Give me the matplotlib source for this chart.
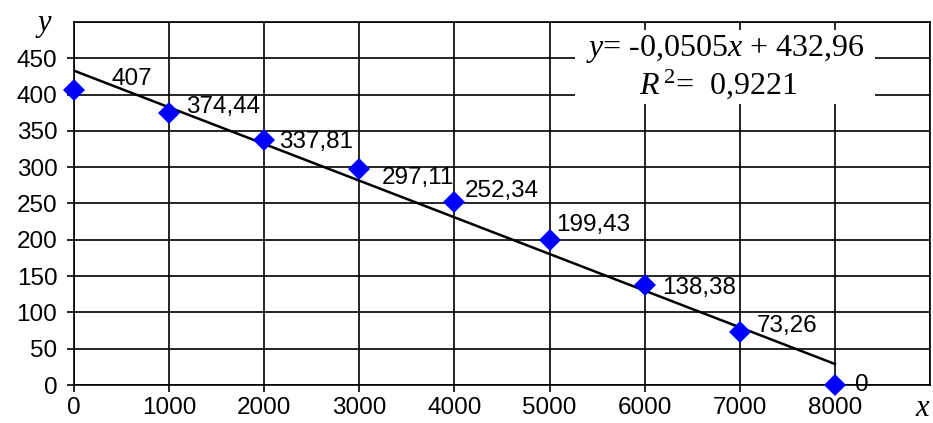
import matplotlib
matplotlib.use("Agg")
import matplotlib.pyplot as plt
import numpy as np
from matplotlib.patches import Rectangle

plt.rcParams["mathtext.fontset"] = "custom"
plt.rcParams["mathtext.it"] = "Liberation Serif:italic"
plt.rcParams["mathtext.rm"] = "Liberation Serif"
plt.rcParams["mathtext.default"] = "regular"

# data
x_vals = [0, 1000, 2000, 3000, 4000, 5000, 6000, 7000, 8000]
y_vals = [407, 374.44, 337.81, 297.11, 252.34, 199.43, 138.38, 73.26, 0]
point_labels = ["407", "374,44", "337,81", "297,11", "252,34", "199,43", "138,38", "73,26", "0"]
x_ticks = [0, 1000, 2000, 3000, 4000, 5000, 6000, 7000, 8000]
y_ticks = [0, 50, 100, 150, 200, 250, 300, 350, 400, 450]
trend_slope = -0.0505
trend_intercept = 432.96
r_squared = "0,9221"

# label offsets in pixels (dx right, dy up)
label_offsets_px = [(38, 11), (17, 6), (15, -2), (22, -9), (10, 11), (7, 15), (17, -3), (17, 6), (20, 0)]

DPI = 100
fig = plt.figure(figsize=(9.33, 4.23), dpi=DPI)
W, H = 933, 423
ax = fig.add_axes([74 / W, (H - 385) / H, (930 - 74) / W, (385 - 22) / H])

ax.set_xlim(0, 9000)
ax.set_ylim(0, 500)
ax.set_xticks(x_ticks)
ax.set_yticks(y_ticks)
ax.set_xticks([9000], minor=True)
ax.set_yticks([500], minor=True)
ax.grid(True, which="both", color="black", linewidth=1.2)
ax.set_axisbelow(True)
for s in ax.spines.values():
    s.set_color("black")
    s.set_linewidth(1.2)
ax.tick_params(axis="both", which="major", direction="out", length=5, width=1.2,
               labelsize=17.5, colors="black")
ax.tick_params(axis="y", which="major", pad=7)
ax.tick_params(axis="x", which="major", pad=3.5)
ax.tick_params(axis="both", which="minor", length=0)
for lab in ax.get_xticklabels() + ax.get_yticklabels():
    lab.set_fontfamily("Liberation Sans")

# trend line
tx = np.array([x_vals[0], x_vals[-1]])
ax.plot(tx, trend_slope * tx + trend_intercept, color="black", linewidth=1.8, zorder=3)

# points
ax.plot(x_vals, y_vals, linestyle="none", marker="D", markersize=11,
        color="#0000FF", markeredgewidth=0, zorder=4, clip_on=False)

for xv, yv, lab, (dx, dy) in zip(x_vals, y_vals, point_labels, label_offsets_px):
    ax.annotate(lab, (xv, yv), xytext=(dx * 72 / DPI, dy * 72 / DPI), textcoords="offset points",
                ha="left", va="center", fontsize=17.5, family="Liberation Sans",
                color="black", zorder=5, annotation_clip=False)

# equation box
def px_to_data(px, py):
    return ax.transData.inverted().transform(ax.transAxes.transform(
        ((px - 74) / (930 - 74), (385 - py) / (385 - 22))))

x0, y0 = px_to_data(575, 104)
x1, y1 = px_to_data(875, 30)
ax.add_patch(Rectangle((x0, y0), x1 - x0, y1 - y0, facecolor="white", edgecolor="none", zorder=2.5))

slope_txt = f"{trend_slope}".replace(".", ",")
icpt_txt = f"{trend_intercept}".replace(".", ",")
ex, ey = px_to_data(725, 49)
ax.text(ex, ey, rf"$\mathit{{y}}$= {slope_txt}$\mathit{{x}}$ + {icpt_txt}", ha="center", va="center",
        fontsize=23, family="Liberation Serif", zorder=6)
rx, ry = px_to_data(718, 84)
ax.text(rx, ry, rf"$\mathit{{R}}^{{\,2}}$=  {r_squared}", ha="center", va="center",
        fontsize=23, family="Liberation Serif", zorder=6)

fig.text(44 / W, 1 - 24 / H, "y", fontsize=22, family="Liberation Serif", style="italic",
         ha="center", va="center")
fig.text(922 / W, 1 - 408 / H, "x", fontsize=22, family="Liberation Serif", style="italic",
         ha="center", va="center")

fig.savefig("out.png", dpi=DPI)
